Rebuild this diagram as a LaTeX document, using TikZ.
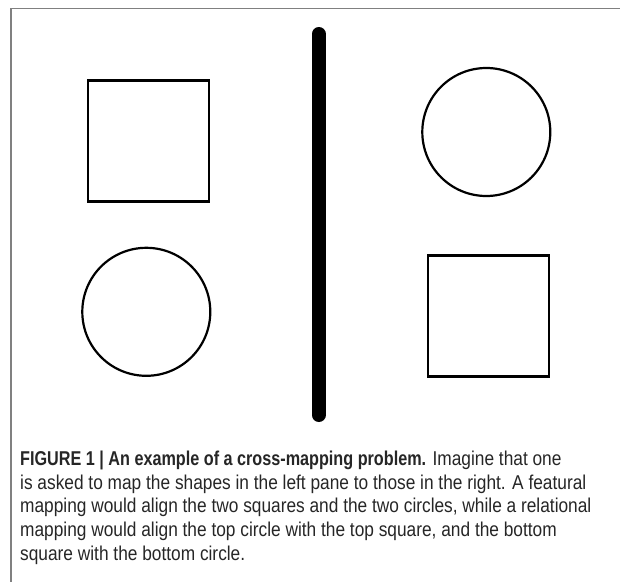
\documentclass[tikz,border=0pt]{standalone}
\usepackage{fontspec}
\setmainfont[FakeStretch=0.865,BoldFeatures={FakeStretch=0.81}]{Liberation Sans}
\begin{document}
\begin{tikzpicture}[x=1pt,y=-1pt,
  frame/.style={draw=black!50,line width=1.5pt},
  shapebox/.style={draw=black,line width=2.2pt,minimum size=121pt,inner sep=0pt,rectangle},
  shapering/.style={draw=black,line width=2.2pt,minimum size=128pt,inner sep=0pt,circle},
  divider/.style={line width=14pt,line cap=round,draw=black},
  captxt/.style={anchor=base west,inner sep=0pt,font=\fontsize{20pt}{23pt}\selectfont,text=black!85}]
\useasboundingbox (0,0) rectangle (620,581);
\coordinate (fa) at (11,582);
\coordinate (fb) at (11,8.5);
\coordinate (fc) at (621,8.5);
\draw[frame] (fa) -- (fb) -- (fc);
\node[shapebox] (sqTL) at (148.5,141) {};
\node[shapering] (ciTR) at (486.3,132) {};
\node[shapering] (ciBL) at (146.3,311.8) {};
\node[shapebox] (sqBR) at (488.5,316) {};
\coordinate (bartop) at (318.7,34);
\coordinate (barbot) at (318.7,415);
\draw[divider] (bartop) -- (barbot);
\node[captxt] (t1) at (20,465.5) {\textbf{FIGURE 1 | An example of a cross-mapping problem.} Imagine that one};
\node[captxt] (t2) at (20,489) {is asked to map the shapes in the left pane to those in the right. A featural};
\node[captxt] (t3) at (20,512.5) {mapping would align the two squares and the two circles, while a relational};
\node[captxt] (t4) at (20,536.5) {mapping would align the top circle with the top square, and the bottom};
\node[captxt] (t5) at (20,560) {square with the bottom circle.};
\end{tikzpicture}
\end{document}
